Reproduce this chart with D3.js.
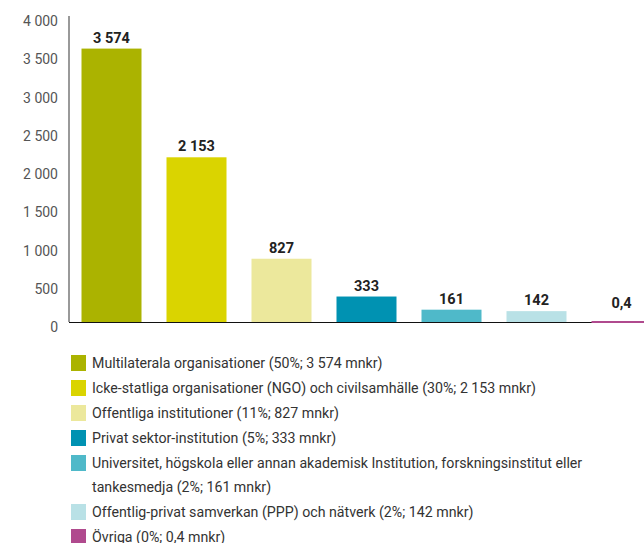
<!DOCTYPE html>
<html lang="sv">
<head>
<meta charset="utf-8">
<title>Stöd per kanal</title>
<script src="https://d3js.org/d3.v7.min.js"></script>
<style>
  body { margin: 0; background: #fff; }
  svg { display: block; font-family: Roboto, "Noto Sans", sans-serif; }
  .tick-label { fill: #555; font-size: 14px; }
  .value-label { fill: #222; font-size: 14.5px; font-weight: bold; }
  .legend-text { fill: #333; font-size: 14.2px; }
</style>
</head>
<body>
<script>
// categories, values and colours
var categories = ["Multilaterala", "NGO", "Offentliga", "Privat", "Universitet", "PPP", "Övriga"];
var values = [3574, 2153, 827, 333, 161, 142, 0.4];
var valueLabels = ["3 574", "2 153", "827", "333", "161", "142", "0,4"];
var colors = ["#abb300", "#dad400", "#ece89c", "#0092b2", "#4fb9c9", "#b9e1e6", "#b04a8e"];
var legendLines = [
  ["Multilaterala organisationer (50%; 3 574 mnkr)"],
  ["Icke-statliga organisationer (NGO) och civilsamhälle (30%; 2 153 mnkr)"],
  ["Offentliga institutioner (11%; 827 mnkr)"],
  ["Privat sektor-institution (5%; 333 mnkr)"],
  ["Universitet, högskola eller annan akademisk Institution, forskningsinstitut eller", "tankesmedja (2%; 161 mnkr)"],
  ["Offentlig-privat samverkan (PPP) och nätverk (2%; 142 mnkr)"],
  ["Övriga (0%; 0,4 mnkr)"]
];
var yTicks = [0, 500, 1000, 1500, 2000, 2500, 3000, 3500, 4000];

var w = 644, h = 543;
var plotLeft = 69, plotTop = 16, base = 322;

var svg = d3.select("body").append("svg")
  .attr("width", w)
  .attr("height", h);

var x = d3.scaleBand()
  .domain(categories)
  .range([plotLeft, plotLeft + 85 * categories.length])
  .paddingInner(25 / 85)
  .paddingOuter(12.5 / 85);

var y = d3.scaleLinear()
  .domain([0, 4000])
  .range([base, plotTop]);

var fmt = function (d) {
  return d3.format(",")(d).replace(/,/g, " ");
};

// y tick labels (no tick marks)
svg.append("g").selectAll("text")
  .data(yTicks)
  .enter().append("text")
  .attr("class", "tick-label")
  .attr("x", plotLeft - 11)
  .attr("y", function (d) { return y(d) + 10; })
  .attr("text-anchor", "end")
  .text(fmt);

// bars
svg.append("g").selectAll("rect")
  .data(values)
  .enter().append("rect")
  .attr("x", function (d, i) { return x(categories[i]); })
  .attr("width", x.bandwidth())
  .attr("y", function (d) { return y(d); })
  .attr("height", function (d) { return base - y(d); })
  .attr("fill", function (d, i) { return colors[i]; });

// value labels
svg.append("g").selectAll("text")
  .data(values)
  .enter().append("text")
  .attr("class", "value-label")
  .attr("x", function (d, i) { return x(categories[i]) + x.bandwidth() / 2; })
  .attr("y", function (d) { return Math.min(y(d), base - 8) - 6; })
  .attr("text-anchor", "middle")
  .text(function (d, i) { return valueLabels[i]; });

// axes
svg.append("line")
  .attr("x1", plotLeft).attr("x2", plotLeft)
  .attr("y1", plotTop).attr("y2", base)
  .attr("stroke", "#777").attr("stroke-width", 1.5);
svg.append("line")
  .attr("x1", plotLeft).attr("x2", w)
  .attr("y1", base + 0.5).attr("y2", base + 0.5)
  .attr("stroke", "#111").attr("stroke-width", 1);
// the 0,4 bar is too thin to see: show it as a coloured stroke on the baseline
svg.append("rect")
  .attr("x", x(categories[6]))
  .attr("width", x.bandwidth())
  .attr("y", base - 1)
  .attr("height", 2)
  .attr("fill", colors[6]);

// legend
var legend = svg.append("g");
var rowY = 355;
legendLines.forEach(function (lines, i) {
  legend.append("rect")
    .attr("x", 71).attr("y", rowY)
    .attr("width", 15).attr("height", 16)
    .attr("fill", colors[i]);
  lines.forEach(function (t, j) {
    legend.append("text")
      .attr("class", "legend-text")
      .attr("x", 92)
      .attr("y", rowY + 13 + j * 24)
      .text(t);
  });
  rowY += 25 + (lines.length - 1) * 24;
});
</script>
</body>
</html>
